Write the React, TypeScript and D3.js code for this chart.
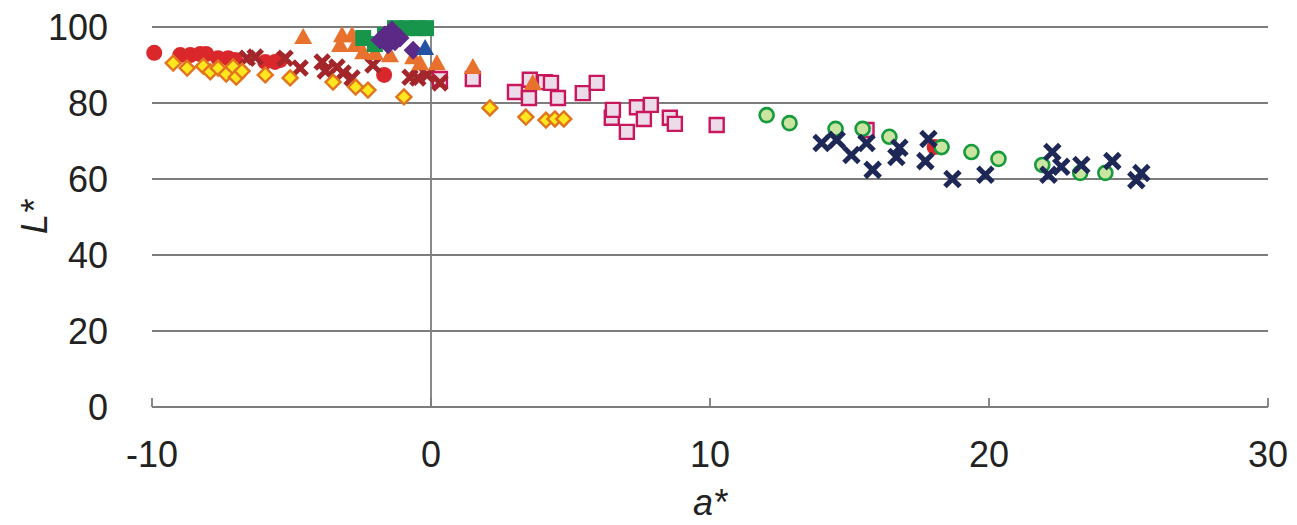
import React, { useEffect, useRef } from 'react';
import * as d3 from 'd3';

// a*, L* pairs, one array per series
const redCircles: [number, number][] = [
  [-9.92, 93.2], [-8.99, 92.6], [-8.63, 92.6], [-8.27, 92.9], [-8.06, 92.9],
  [-7.63, 91.8], [-7.27, 91.8], [-7.02, 91.3], [-5.94, 90.8], [-5.59, 90.8],
  [-5.41, 91.3], [-1.68, 87.4], [18.05, 68.4],
];
const pinkSquares: [number, number][] = [
  [0.32, 86.3], [1.5, 86.3], [3.01, 82.9], [3.54, 86.1], [3.51, 81.3],
  [4.08, 85.5], [4.3, 85.3], [4.55, 81.3], [5.44, 82.6], [5.94, 85.3],
  [6.48, 76.1], [6.52, 78.2], [7.02, 72.4], [7.38, 78.9], [7.63, 75.8],
  [7.88, 79.5], [8.56, 76.1], [8.74, 74.5], [10.24, 74.2], [15.61, 72.9],
];
const darkRedX: [number, number][] = [
  [-6.59, 91.8], [-6.3, 92.1], [-5.23, 91.8], [-4.69, 89.2], [-3.9, 90.8],
  [-3.79, 88.4], [-3.37, 89.5], [-3.15, 87.9], [-2.83, 86.6], [-2.08, 90.0],
  [-0.75, 86.8], [-0.47, 86.6], [-0.14, 87.4], [0.32, 85.3],
];
const orangeTriangles: [number, number][] = [
  [-4.58, 97.4], [-3.19, 97.9], [-3.26, 95.3], [-2.83, 97.9], [-2.72, 95.3],
  [-2.43, 93.4], [-2.01, 93.2], [-1.47, 92.6], [-0.64, 92.1], [-0.39, 90.5],
  [0.21, 90.5], [1.5, 89.5], [3.65, 85.3],
];
const yellowDiamonds: [number, number][] = [
  [-9.24, 90.5], [-8.74, 89.2], [-8.16, 89.7], [-7.91, 88.2], [-7.63, 89.2],
  [-7.34, 87.6], [-7.09, 89.5], [-6.98, 86.8], [-6.77, 88.4], [-5.94, 87.4],
  [-5.05, 86.6], [-3.51, 85.5], [-2.7, 84.2], [-2.26, 83.4], [-0.97, 81.6],
  [2.11, 78.7], [3.4, 76.3], [4.12, 75.5], [4.44, 75.8], [4.76, 75.8],
];
const greenSquares: [number, number][] = [
  [-2.43, 97.1], [-2.01, 95.5], [-1.65, 97.9], [-1.29, 99.7], [-0.86, 99.7],
  [-0.47, 99.7], [-0.18, 99.7],
];
const purpleDiamonds: [number, number][] = [
  [-1.65, 97.9], [-1.4, 99.2], [-1.29, 96.1], [-1.54, 95.3], [-1.11, 97.1],
  [-1.83, 96.6], [-0.64, 93.9],
];
const blueTriangles: [number, number][] = [[-0.21, 94.5]];
const greenCircles: [number, number][] = [
  [12.03, 76.8], [12.85, 74.7], [14.5, 73.2], [15.47, 73.2], [16.43, 71.1],
  [18.3, 68.4], [19.37, 67.1], [20.34, 65.3], [21.91, 63.7], [23.27, 61.6],
  [24.17, 61.6],
];
const navyX: [number, number][] = [
  [14.0, 69.5], [14.54, 70.3], [15.07, 66.3], [15.61, 69.5], [15.83, 62.4],
  [16.79, 68.2], [16.68, 65.8], [17.83, 70.5], [17.72, 64.7], [18.69, 60.0],
  [19.87, 61.1], [22.27, 67.1], [22.13, 61.1], [22.59, 63.2], [23.31, 63.7],
  [24.42, 64.7], [25.46, 61.6], [25.28, 59.7],
];

const xTicks = [-10, 0, 10, 20, 30];
const yTicks = [0, 20, 40, 60, 80, 100];

type Shape = 'circle' | 'square' | 'diamond' | 'triangle' | 'x';

const shapePath = (shape: Shape, s: number) => {
  const p = d3.path();
  if (shape === 'circle') {
    p.arc(0, 0, s, 0, Math.PI * 2);
  } else if (shape === 'square') {
    p.rect(-s, -s, s * 2, s * 2);
  } else if (shape === 'diamond') {
    p.moveTo(0, -s); p.lineTo(s, 0); p.lineTo(0, s); p.lineTo(-s, 0); p.closePath();
  } else if (shape === 'triangle') {
    p.moveTo(0, -s); p.lineTo(s, s * 0.8); p.lineTo(-s, s * 0.8); p.closePath();
  } else {
    p.moveTo(-s, -s); p.lineTo(s, s); p.moveTo(s, -s); p.lineTo(-s, s);
  }
  return p.toString();
};

const App: React.FC = () => {
  const svgRef = useRef<SVGSVGElement>(null);
  const width = 1297;
  const height = 525;

  useEffect(() => {
    if (!svgRef.current) return;
    const svg = d3.select(svgRef.current);
    svg.selectAll('*').remove();

    const x = d3.scaleLinear().domain([-10, 30]).range([152, 1268]);
    const y = d3.scaleLinear().domain([0, 100]).range([407, 27]);
    const font = '"Liberation Sans", Arial, sans-serif';
    const axisColor = '#7d7d7d';

    // gridlines
    svg.append('g')
      .selectAll('line')
      .data(yTicks.filter(d => d > 0))
      .join('line')
      .attr('x1', x(-10)).attr('x2', x(30))
      .attr('y1', d => y(d)).attr('y2', d => y(d))
      .attr('stroke', axisColor).attr('stroke-width', 1.8);

    // bottom axis with upward ticks
    svg.append('line')
      .attr('x1', x(-10)).attr('x2', x(30))
      .attr('y1', y(0)).attr('y2', y(0))
      .attr('stroke', axisColor).attr('stroke-width', 1.8);
    svg.append('g')
      .selectAll('line')
      .data(xTicks)
      .join('line')
      .attr('x1', d => x(d)).attr('x2', d => x(d))
      .attr('y1', y(0)).attr('y2', y(0) - 9)
      .attr('stroke', axisColor).attr('stroke-width', 1.8);

    // vertical axis at a* = 0
    svg.append('line')
      .attr('x1', x(0)).attr('x2', x(0))
      .attr('y1', y(0)).attr('y2', y(100))
      .attr('stroke', axisColor).attr('stroke-width', 1.8);

    // tick labels
    svg.append('g')
      .selectAll('text')
      .data(yTicks)
      .join('text')
      .attr('x', 108)
      .attr('y', d => y(d) + 13)
      .attr('text-anchor', 'end')
      .style('font-family', font).style('font-size', '36px').style('fill', '#222')
      .text(d => d);
    svg.append('g')
      .selectAll('text')
      .data(xTicks)
      .join('text')
      .attr('x', d => x(d))
      .attr('y', 467)
      .attr('text-anchor', 'middle')
      .style('font-family', font).style('font-size', '36px').style('fill', '#222')
      .text(d => d);

    // axis titles
    svg.append('text')
      .attr('transform', 'translate(47,217) rotate(-90)')
      .attr('text-anchor', 'middle')
      .style('font-family', font).style('font-size', '36px').style('font-style', 'italic').style('fill', '#222')
      .text('L*');
    svg.append('text')
      .attr('x', 710).attr('y', 515)
      .attr('text-anchor', 'middle')
      .style('font-family', font).style('font-size', '36px').style('font-style', 'italic').style('fill', '#222')
      .text('a*');

    const series: {
      data: [number, number][]; shape: Shape; size: number;
      fill: string; stroke: string; strokeWidth: number;
    }[] = [
      { data: pinkSquares, shape: 'square', size: 7, fill: '#ecdbe8', stroke: '#c8175d', strokeWidth: 2.4 },
      { data: redCircles, shape: 'circle', size: 8, fill: '#d9272b', stroke: 'none', strokeWidth: 0 },
      { data: darkRedX, shape: 'x', size: 7, fill: 'none', stroke: '#a3262b', strokeWidth: 5 },
      { data: orangeTriangles, shape: 'triangle', size: 9, fill: '#e8712d', stroke: 'none', strokeWidth: 0 },
      { data: yellowDiamonds, shape: 'diamond', size: 7.5, fill: '#ffe61e', stroke: '#e2741f', strokeWidth: 2.4 },
      { data: greenSquares, shape: 'square', size: 8, fill: '#17964b', stroke: 'none', strokeWidth: 0 },
      { data: purpleDiamonds, shape: 'diamond', size: 9.5, fill: '#5b2a86', stroke: 'none', strokeWidth: 0 },
      { data: blueTriangles, shape: 'triangle', size: 9, fill: '#2352a3', stroke: 'none', strokeWidth: 0 },
      { data: greenCircles, shape: 'circle', size: 7, fill: '#cae4a2', stroke: '#169a3c', strokeWidth: 2.6 },
      { data: navyX, shape: 'x', size: 7.5, fill: 'none', stroke: '#1e2857', strokeWidth: 5 },
    ];

    series.forEach(s => {
      svg.append('g')
        .selectAll('path')
        .data(s.data)
        .join('path')
        .attr('transform', d => `translate(${x(d[0])},${y(d[1])})`)
        .attr('d', shapePath(s.shape, s.size))
        .attr('fill', s.fill)
        .attr('stroke', s.stroke)
        .attr('stroke-width', s.strokeWidth);
    });
  }, []);

  return (
    <svg
      ref={svgRef}
      width={width}
      height={height}
      style={{ position: 'absolute', left: 0, top: 0, background: '#fff' }}
    />
  );
};

export default App;
